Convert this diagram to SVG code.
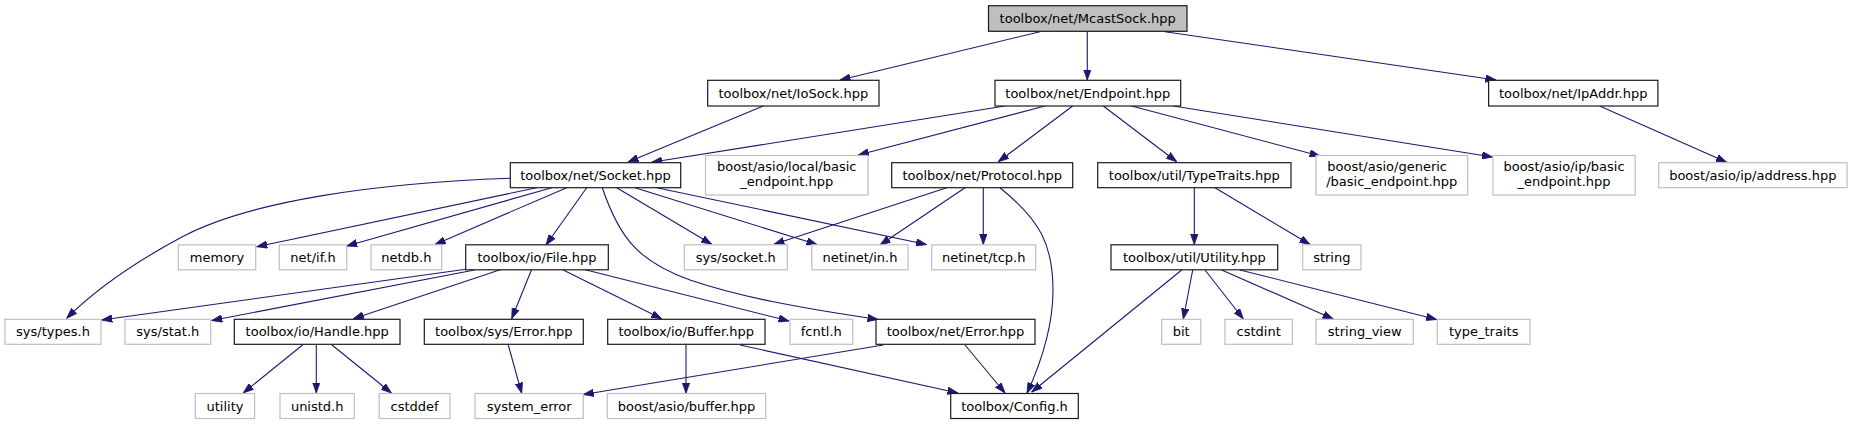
<svg xmlns="http://www.w3.org/2000/svg" width="1853" height="425" viewBox="0 0 1853 425">
<style>
text{font-family:"DejaVu Sans","Liberation Sans",sans-serif;font-size:13px;fill:#000;text-anchor:middle}
.n rect{fill:#fff;stroke:#1a1a1a;stroke-width:1.2}
.g rect{fill:#fff;stroke:#bfbfbf;stroke-width:1.2}
.root rect{fill:#bfbfbf;stroke:#1a1a1a;stroke-width:1.2}
#edges path{fill:none;stroke:#191970;stroke-width:1.1;marker-end:url(#ah)}
</style>
<defs>
<marker id="ah" markerWidth="11" markerHeight="8" refX="10.5" refY="4" orient="auto" markerUnits="userSpaceOnUse">
<path d="M0,0.3 L10.5,4 L0,7.7 z" fill="#191970" stroke="#191970" stroke-width="0.8"/>
</marker>
</defs>
<rect width="1853" height="425" fill="#fff"/>
<g id="edges">
<path d="M1040,31.7 L840,80"/>
<path d="M1087.3,31.7 L1087.3,80"/>
<path d="M1165,31.7 L1496,80"/>
<path d="M763.3,106 L628,162"/>
<path d="M1005,106 L651.6,162.3"/>
<path d="M1045,106 L858.3,155"/>
<path d="M1072.7,106 L998.3,161.7"/>
<path d="M1103.3,106 L1176.7,161.7"/>
<path d="M1131.7,106 L1320,156"/>
<path d="M1173.3,106 L1492.5,157"/>
<path d="M1599.6,106 L1726.7,162.3"/>
<path d="M510.3,178.3 C380,183 250,200 180,238 C130,265 95,290 66.7,318.3"/>
<path d="M536.7,187.7 L256.7,246.7"/>
<path d="M551.7,187.7 L346.7,246"/>
<path d="M566.7,187.7 L435,244.5"/>
<path d="M586.7,187.7 L546,245"/>
<path d="M602.3,187.7 C620,240 640,262 690,280 C740,297 800,308 878,319.5"/>
<path d="M616.7,187.7 L711.7,244.3"/>
<path d="M635,187.7 L817,244.5"/>
<path d="M656.7,187.7 L926.5,244.5"/>
<path d="M946.7,187.7 L774,244.3"/>
<path d="M965,187.7 L880,245"/>
<path d="M983.3,187.7 L983.3,244.5"/>
<path d="M1000,187.7 C1040,220 1053,245 1053,290 C1053,330 1040,365 1027,393.3"/>
<path d="M1194.3,187.7 L1194.3,244.5"/>
<path d="M1215,187.7 L1310,244.5"/>
<path d="M1181.7,270 L1031.7,392"/>
<path d="M1192.7,270 L1183.3,319"/>
<path d="M1205,270 L1243.3,319"/>
<path d="M1221.7,270 L1333.3,319"/>
<path d="M1240,270 L1436.7,319.5"/>
<path d="M465.8,269.3 L101.7,320"/>
<path d="M474.5,270 L211.7,320.5"/>
<path d="M501.7,269.3 L353.3,318.7"/>
<path d="M531.7,269.3 L511.7,318.7"/>
<path d="M561.7,269.3 L661.7,318.7"/>
<path d="M583.3,269.3 L789,321"/>
<path d="M302.5,345 L243.2,393"/>
<path d="M316.3,345 L316.3,393"/>
<path d="M332,345 L391.4,393"/>
<path d="M508.3,345 L521.7,393.3"/>
<path d="M686,345 L686,393.3"/>
<path d="M740,345 L958,393"/>
<path d="M883.3,345 L583.3,394.5"/>
<path d="M965,345 L1005,393"/>
</g>
<g id="n_mcastsock" class="root"><rect x="988.5" y="5.7" width="198.5" height="25.6"/><text x="1087.7" y="23">toolbox/net/McastSock.hpp</text></g>
<g id="n_iosock" class="n"><rect x="707.7" y="80.3" width="171.3" height="25.7"/><text x="793.3" y="97.6">toolbox/net/IoSock.hpp</text></g>
<g id="n_endpoint" class="n"><rect x="995" y="80.3" width="185.7" height="25.7"/><text x="1087.8" y="97.6">toolbox/net/Endpoint.hpp</text></g>
<g id="n_ipaddr" class="n"><rect x="1488.6" y="80.3" width="169.3" height="25.7"/><text x="1573.2" y="97.6">toolbox/net/IpAddr.hpp</text></g>
<g id="n_socket" class="n"><rect x="510.3" y="162.7" width="170.4" height="25"/><text x="595.5" y="179.7">toolbox/net/Socket.hpp</text></g>
<g id="n_local" class="g"><rect x="705.5" y="155.5" width="162.5" height="39.5"/><text x="786.7" y="170.5">boost/asio/local/basic</text><text x="786.7" y="185.5">_endpoint.hpp</text></g>
<g id="n_protocol" class="n"><rect x="891.7" y="162.7" width="181" height="25"/><text x="982.2" y="179.7">toolbox/net/Protocol.hpp</text></g>
<g id="n_typetraits" class="n"><rect x="1097.7" y="162.7" width="193.3" height="25"/><text x="1194.3" y="179.7">toolbox/util/TypeTraits.hpp</text></g>
<g id="n_generic" class="g"><rect x="1316" y="155.5" width="151.7" height="39.5"/><text x="1327.3" y="170.5" style="text-anchor:start">boost/asio/generic</text><text x="1391.8" y="185.5">/basic_endpoint.hpp</text></g>
<g id="n_ipbasic" class="g"><rect x="1492.9" y="155.5" width="142.3" height="39.5"/><text x="1564" y="170.5">boost/asio/ip/basic</text><text x="1564" y="185.5">_endpoint.hpp</text></g>
<g id="n_ipaddress" class="g"><rect x="1658.7" y="162.7" width="188.3" height="25"/><text x="1752.8" y="179.7">boost/asio/ip/address.hpp</text></g>
<g id="n_memory" class="g"><rect x="178.3" y="244.8" width="77.4" height="25"/><text x="217" y="261.8">memory</text></g>
<g id="n_netif" class="g"><rect x="279.3" y="244.8" width="67.4" height="25"/><text x="313" y="261.8">net/if.h</text></g>
<g id="n_netdb" class="g"><rect x="371" y="244.8" width="70.7" height="25"/><text x="406.3" y="261.8">netdb.h</text></g>
<g id="n_file" class="n"><rect x="465.7" y="244.8" width="142.6" height="25"/><text x="537" y="261.8">toolbox/io/File.hpp</text></g>
<g id="n_syssocket" class="g"><rect x="684.3" y="244.8" width="103" height="25"/><text x="735.8" y="261.8">sys/socket.h</text></g>
<g id="n_netinetin" class="g"><rect x="811.8" y="244.8" width="96.3" height="25"/><text x="860" y="261.8">netinet/in.h</text></g>
<g id="n_netinettcp" class="g"><rect x="931.7" y="244.8" width="104" height="25"/><text x="983.7" y="261.8">netinet/tcp.h</text></g>
<g id="n_utility_hpp" class="n"><rect x="1111" y="244.8" width="166.7" height="25"/><text x="1194.3" y="261.8">toolbox/util/Utility.hpp</text></g>
<g id="n_string" class="g"><rect x="1302.7" y="244.8" width="58.3" height="25"/><text x="1331.8" y="261.8">string</text></g>
<g id="n_systypes" class="g"><rect x="5" y="319.3" width="96" height="25"/><text x="53" y="336.3">sys/types.h</text></g>
<g id="n_sysstat" class="g"><rect x="125" y="319.3" width="85.7" height="25"/><text x="167.8" y="336.3">sys/stat.h</text></g>
<g id="n_handle" class="n"><rect x="234.3" y="319.3" width="165.7" height="25"/><text x="317.2" y="336.3">toolbox/io/Handle.hpp</text></g>
<g id="n_syserror" class="n"><rect x="424.3" y="319.3" width="159" height="25"/><text x="503.8" y="336.3">toolbox/sys/Error.hpp</text></g>
<g id="n_buffer" class="n"><rect x="607.7" y="319.3" width="157.3" height="25"/><text x="686.3" y="336.3">toolbox/io/Buffer.hpp</text></g>
<g id="n_fcntl" class="g"><rect x="790" y="319.3" width="62.7" height="25"/><text x="821.3" y="336.3">fcntl.h</text></g>
<g id="n_neterror" class="n"><rect x="876" y="319.3" width="159" height="25"/><text x="955.5" y="336.3">toolbox/net/Error.hpp</text></g>
<g id="n_bit" class="g"><rect x="1161.7" y="319.3" width="39" height="25"/><text x="1181.2" y="336.3">bit</text></g>
<g id="n_cstdint" class="g"><rect x="1225" y="319.3" width="67.3" height="25"/><text x="1258.7" y="336.3">cstdint</text></g>
<g id="n_stringview" class="g"><rect x="1316" y="319.3" width="97.3" height="25"/><text x="1364.7" y="336.3">string_view</text></g>
<g id="n_typetraits_std" class="g"><rect x="1437.3" y="319.3" width="92.7" height="25"/><text x="1483.7" y="336.3">type_traits</text></g>
<g id="n_utility" class="g"><rect x="195.3" y="393.5" width="59.3" height="25"/><text x="225" y="410.5">utility</text></g>
<g id="n_unistd" class="g"><rect x="280" y="393.5" width="74.3" height="25"/><text x="317.2" y="410.5">unistd.h</text></g>
<g id="n_cstddef" class="g"><rect x="379.2" y="393.5" width="70.8" height="25"/><text x="414.6" y="410.5">cstddef</text></g>
<g id="n_systemerror" class="g"><rect x="475" y="393.5" width="108.3" height="25"/><text x="529.2" y="410.5">system_error</text></g>
<g id="n_asiobuffer" class="g"><rect x="607.3" y="393.5" width="158.4" height="25"/><text x="686.5" y="410.5">boost/asio/buffer.hpp</text></g>
<g id="n_config" class="n"><rect x="950.7" y="393.5" width="127.6" height="25"/><text x="1014.5" y="410.5">toolbox/Config.h</text></g>
</svg>
